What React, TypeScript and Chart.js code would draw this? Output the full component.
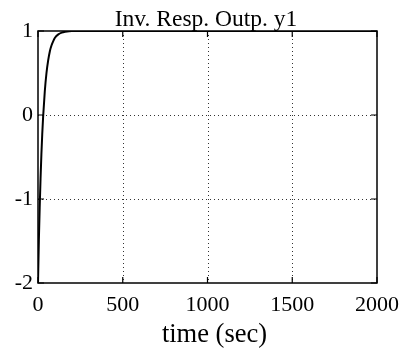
import React, { useEffect, useRef } from "react";
import { Chart, registerables } from "chart.js";
Chart.register(...registerables);

const timeSec = [0, 5, 10, 15, 20, 25, 30, 40, 50, 60, 70, 80, 90, 100, 120, 140, 160, 200, 250, 300, 2000];
const outputY1 = [-2, -1.5, -1.1, -0.76, -0.47, -0.23, -0.03, 0.28, 0.5, 0.65, 0.76, 0.83, 0.88, 0.92, 0.96, 0.98, 0.99, 1.0, 1.0, 1.0, 1.0];
const xTickValues = [0, 500, 1000, 1500, 2000];
const yTickValues = [-2, -1, 0, 1];
const titleText = "Inv. Resp. Outp. y1";
const xAxisLabel = "time (sec)";

const FONT = "'Liberation Serif', 'Times New Roman', serif";

export default function App() {
  const ref = useRef<HTMLCanvasElement>(null);
  useEffect(() => {
    document.body.style.margin = "0";
    const framePlugin = {
      id: "frameGrid",
      beforeDatasetsDraw(chart: any) {
        const { ctx, chartArea: a, scales } = chart;
        ctx.save();
        ctx.strokeStyle = "#333";
        ctx.lineWidth = 1;
        ctx.setLineDash([1, 3]);
        for (const v of xTickValues.slice(1, -1)) {
          const px = Math.round(scales.x.getPixelForValue(v)) + 0.5;
          ctx.beginPath();
          ctx.moveTo(px, a.top);
          ctx.lineTo(px, a.bottom);
          ctx.stroke();
        }
        for (const v of yTickValues.slice(1, -1)) {
          const py = Math.round(scales.y.getPixelForValue(v)) + 0.5;
          ctx.beginPath();
          ctx.moveTo(a.left, py);
          ctx.lineTo(a.right, py);
          ctx.stroke();
        }
        ctx.restore();
      },
      afterDatasetsDraw(chart: any) {
        const { ctx, chartArea: a, scales } = chart;
        ctx.save();
        ctx.strokeStyle = "#000";
        ctx.setLineDash([]);
        ctx.lineWidth = 1.5;
        ctx.strokeRect(a.left, a.top, a.right - a.left, a.bottom - a.top);
        const t = 6;
        ctx.lineWidth = 1.2;
        for (const v of xTickValues) {
          const px = scales.x.getPixelForValue(v);
          ctx.beginPath();
          ctx.moveTo(px, a.bottom);
          ctx.lineTo(px, a.bottom - t);
          ctx.moveTo(px, a.top);
          ctx.lineTo(px, a.top + t);
          ctx.stroke();
        }
        for (const v of yTickValues) {
          const py = scales.y.getPixelForValue(v);
          ctx.beginPath();
          ctx.moveTo(a.left, py);
          ctx.lineTo(a.left + t, py);
          ctx.moveTo(a.right, py);
          ctx.lineTo(a.right - t, py);
          ctx.stroke();
        }
        // title and axis label
        ctx.fillStyle = "#000";
        ctx.textBaseline = "alphabetic";
        ctx.textAlign = "center";
        ctx.font = `23.5px ${FONT}`;
        ctx.fillText(titleText, (a.left + a.right) / 2 - 1.5, a.top - 5.5);
        ctx.font = `26.5px ${FONT}`;
        ctx.fillText(xAxisLabel, (a.left + a.right) / 2 + 7, a.bottom + 59);
        ctx.restore();
      },
    };

    const chart = new Chart(ref.current as HTMLCanvasElement, {
      type: "line",
      data: {
        datasets: [
          {
            data: timeSec.map((x, i) => ({ x, y: outputY1[i] })),
            borderColor: "#000",
            borderWidth: 2,
            pointRadius: 0,
            cubicInterpolationMode: "monotone",
            fill: false,
          },
        ],
      },
      options: {
        animation: false,
        responsive: false,
        devicePixelRatio: 1,
        layout: { padding: { left: 0, right: 28, top: 31, bottom: 0 } },
        plugins: {
          legend: { display: false },
          tooltip: { enabled: false },
          title: { display: false },
        },
        scales: {
          x: {
            type: "linear",
            min: 0,
            max: 2000,
            afterFit: (s: any) => {
              s.height = 71;
              s.paddingLeft = 0;
              s.paddingRight = 0;
            },
            afterBuildTicks: (s: any) => {
              s.ticks = xTickValues.map((v) => ({ value: v }));
            },
            grid: { display: false, drawTicks: false },
            border: { display: false },
            ticks: {
              color: "#000",
              padding: 9,
              maxRotation: 0,
              font: { family: FONT, size: 22 },
              callback: (v: any) => String(v),
            },
          },
          y: {
            type: "linear",
            min: -2,
            max: 1,
            afterFit: (s: any) => {
              s.width = 38;
              s.paddingTop = 0;
              s.paddingBottom = 0;
            },
            afterBuildTicks: (s: any) => {
              s.ticks = yTickValues.map((v) => ({ value: v }));
            },
            grid: { display: false, drawTicks: false },
            border: { display: false },
            ticks: {
              color: "#000",
              padding: 5,
              font: { family: FONT, size: 22 },
              callback: (v: any) => String(v),
            },
          },
        },
      },
      plugins: [framePlugin],
    });
    return () => chart.destroy();
  }, []);
  return (
    <canvas
      ref={ref}
      width={405}
      height={354}
      style={{ display: "block", width: 405, height: 354 }}
    />
  );
}
